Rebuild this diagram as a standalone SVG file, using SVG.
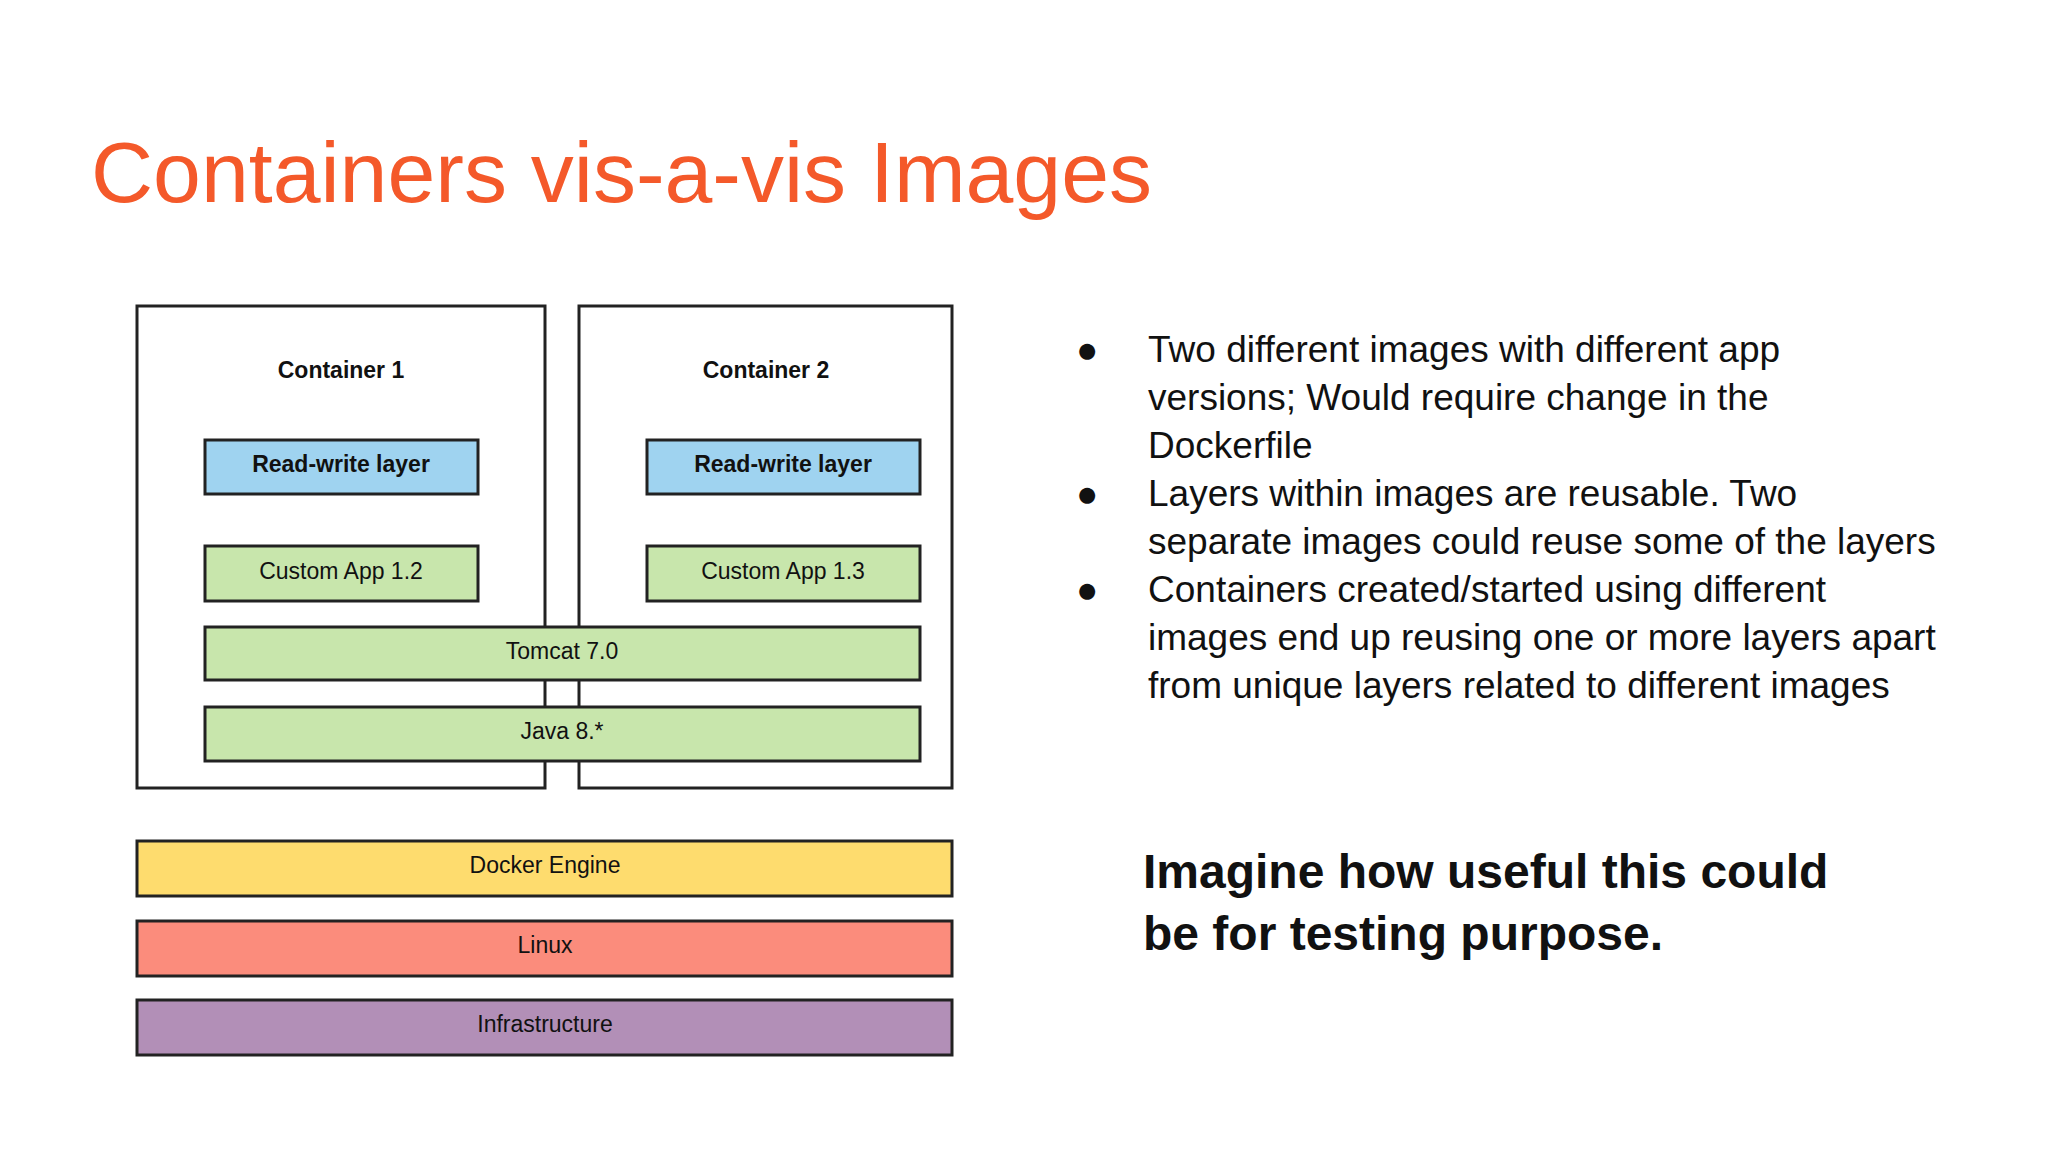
<svg xmlns="http://www.w3.org/2000/svg" width="2048" height="1152" viewBox="0 0 2048 1152">
<style>
.b{stroke:#222;stroke-width:3}
.c{fill:#fff}
.t{font-family:"Liberation Sans",Arial,sans-serif;font-size:23px;fill:#111;text-anchor:middle}
.h{font-weight:bold}
.p{font-family:"Liberation Sans",Arial,sans-serif;font-size:37px;fill:#111}
</style>
<rect width="2048" height="1152" fill="#fff"/>
<text x="91" y="202" font-family="Liberation Sans,Arial,sans-serif" font-size="86" fill="#f4592a">Containers vis-a-vis Images</text>
<g id="container1"><rect class="b c" x="137" y="306" width="408" height="482"/><text class="t h" x="341" y="378">Container 1</text></g>
<g id="container2"><rect class="b c" x="579" y="306" width="373" height="482"/><text class="t h" x="766" y="378">Container 2</text></g>
<g id="rw1"><rect class="b" fill="#9fd3f0" x="205" y="440" width="273" height="54"/><text class="t h" x="341" y="472">Read-write layer</text></g>
<g id="rw2"><rect class="b" fill="#9fd3f0" x="647" y="440" width="273" height="54"/><text class="t h" x="783" y="472">Read-write layer</text></g>
<g id="app1"><rect class="b" fill="#c8e6ac" x="205" y="546" width="273" height="55"/><text class="t" x="341" y="579">Custom App 1.2</text></g>
<g id="app2"><rect class="b" fill="#c8e6ac" x="647" y="546" width="273" height="55"/><text class="t" x="783" y="579">Custom App 1.3</text></g>
<g id="tomcat"><rect class="b" fill="#c8e6ac" x="205" y="627" width="715" height="53"/><text class="t" x="562" y="659">Tomcat 7.0</text></g>
<g id="java"><rect class="b" fill="#c8e6ac" x="205" y="707" width="715" height="54"/><text class="t" x="562" y="739">Java 8.*</text></g>
<g id="docker"><rect class="b" fill="#fedc6e" x="137" y="841" width="815" height="55"/><text class="t" x="545" y="873">Docker Engine</text></g>
<g id="linux"><rect class="b" fill="#fb8c7c" x="137" y="921" width="815" height="55"/><text class="t" x="545" y="953">Linux</text></g>
<g id="infra"><rect class="b" fill="#b28fb7" x="137" y="1000" width="815" height="55"/><text class="t" x="545" y="1032">Infrastructure</text></g>
<g id="connectors"/>
<g class="p">
<text x="1076" y="362">●</text>
<text x="1148" y="362">Two different images with different app</text>
<text x="1148" y="410">versions; Would require change in the</text>
<text x="1148" y="458">Dockerfile</text>
<text x="1076" y="506">●</text>
<text x="1148" y="506">Layers within images are reusable. Two</text>
<text x="1148" y="554">separate images could reuse some of the layers</text>
<text x="1076" y="602">●</text>
<text x="1148" y="602">Containers created/started using different</text>
<text x="1148" y="650">images end up reusing one or more layers apart</text>
<text x="1148" y="698">from unique layers related to different images</text>
</g>
<text x="1143" y="888" font-family="Liberation Sans,Arial,sans-serif" font-size="48" font-weight="bold" fill="#111">Imagine how useful this could</text>
<text x="1143" y="950" font-family="Liberation Sans,Arial,sans-serif" font-size="48" font-weight="bold" fill="#111">be for testing purpose.</text>
</svg>
